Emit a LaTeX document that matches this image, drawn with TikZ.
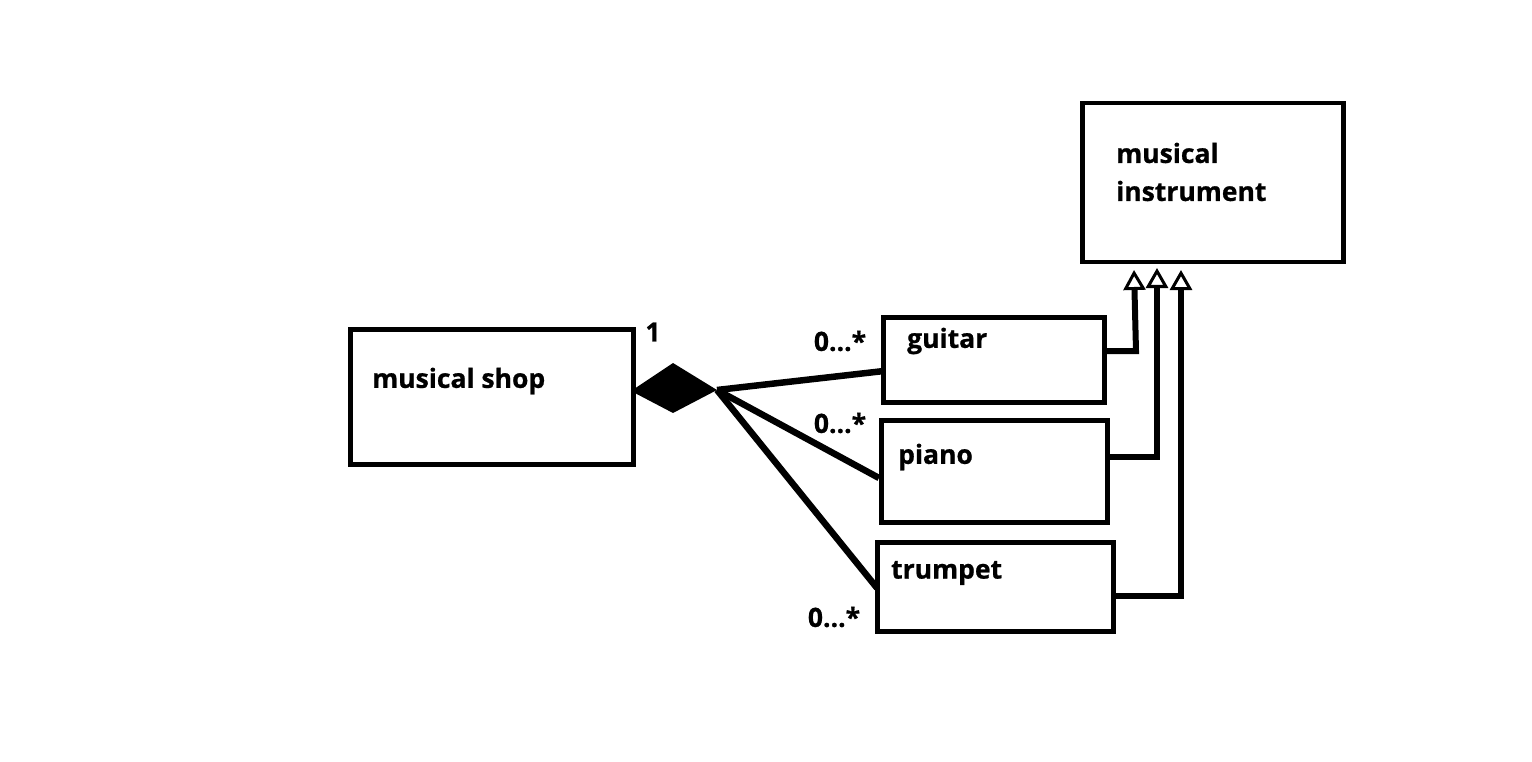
\documentclass[tikz,border=0pt]{standalone}
\usepackage{fontspec}
\setmainfont{Open Sans}[BoldFeatures={FakeBold=0.8}]
\usetikzlibrary{arrows.meta}
\begin{document}
\begin{tikzpicture}[x=1pt,y=-1pt,
  cls/.style={draw,line width=4.5pt,inner sep=0pt,anchor=north west},
  lbl/.style={font=\fontsize{26.5}{38}\selectfont\bfseries,inner sep=0pt},
  assoc/.style={line width=6.5pt},
  gen/.style={line width=6pt,-{Triangle[open,length=20pt,width=22pt,line width=3pt]}}
]
\useasboundingbox (0,0) rectangle (1532,762);
\node[cls,minimum width=261pt,minimum height=159pt] (instr) at (1080,101) {};
\node[cls,minimum width=283pt,minimum height=135pt] (shop) at (348,327) {};
\node[cls,minimum width=221pt,minimum height=85pt] (guitar) at (881,315) {};
\node[cls,minimum width=226pt,minimum height=102pt] (piano) at (879,418) {};
\node[cls,minimum width=236pt,minimum height=89pt] (trumpet) at (875,540) {};

\node[lbl,anchor=west] at (372,381) {musical shop};
\node[lbl,anchor=west] at (907,341) {guitar};
\node[lbl,anchor=west] at (898,457) {piano};
\node[lbl,anchor=west] at (891,573) {trumpet};
\node[lbl,anchor=west,align=left] at (1116,172) {musical\\instrument};

\node[lbl] at (653,332) {1};
\node[lbl] at (840,341) {0...*};
\node[lbl] at (840,423) {0...*};
\node[lbl] at (834,617) {0...*};

% composition diamond
\coordinate (dl) at (631,391);
\coordinate (dr) at (717,390);
\fill (dl) -- (673,363) -- (dr) -- (673,413) -- cycle;

\coordinate (g) at (884,371);
\coordinate (p) at (879,478);
\coordinate (t) at (877,588);
\draw[assoc] (dr) -- (g);
\draw[assoc] (dr) -- (p);
\draw[assoc] (dr) -- (t);

% generalization
\coordinate (ga) at (1134,270);
\coordinate (pa) at (1157,268);
\coordinate (ta) at (1181,270);
\draw[gen] (guitar.east |- 0,351) -- (1136,351) -- (ga);
\draw[gen] (piano.east |- 0,457) -- (1157,457) -- (pa);
\draw[gen] (trumpet.east |- 0,596) -- (1181,596) -- (ta);
\end{tikzpicture}
\end{document}
